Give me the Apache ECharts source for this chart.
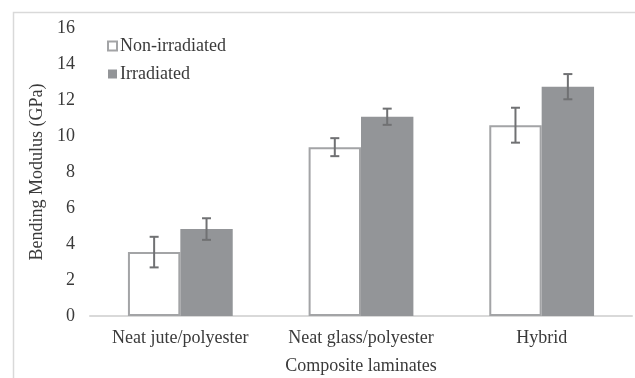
<!DOCTYPE html>
<html>
<head>
<meta charset="utf-8">
<script src="https://cdn.jsdelivr.net/npm/echarts@6/dist/echarts.min.js"></script>
<style>
html,body{margin:0;padding:0;background:#fff;}
#chart{width:635px;height:378px;}
</style>
</head>
<body>
<div id="chart"></div>
<script>
const categories = ['Neat jute/polyester', 'Neat glass/polyester', 'Hybrid'];
const seriesNames = ['Non-irradiated', 'Irradiated'];
const nonIrradiated = [3.55, 9.38, 10.6];
const irradiated = [4.83, 11.07, 12.74];
const nonIrradiatedErr = [0.85, 0.5, 0.97];
const irradiatedErr = [0.6, 0.45, 0.7];
const yTicks = [0, 2, 4, 6, 8, 10, 12, 14, 16];

const FONT = '"Liberation Serif", "Times New Roman", serif';
const TXT = '#3a3a3a';
const BAR_FRAC = 0.29;

function errorSeries(values, errs, side) {
  return {
    type: 'custom',
    silent: true,
    z: 10,
    data: values.map((v, i) => [i, v - errs[i], v + errs[i]]),
    renderItem: function (params, api) {
      const i = api.value(0);
      const lo = api.coord([i, api.value(1)]);
      const hi = api.coord([i, api.value(2)]);
      const band = api.size([1, 0])[0];
      const x = lo[0] + side * band * BAR_FRAC / 2;
      const cap = 4.5;
      const style = { stroke: '#707173', lineWidth: 2 };
      return {
        type: 'group',
        children: [
          { type: 'line', shape: { x1: x, y1: lo[1], x2: x, y2: hi[1] }, style },
          { type: 'line', shape: { x1: x - cap, y1: lo[1], x2: x + cap, y2: lo[1] }, style },
          { type: 'line', shape: { x1: x - cap, y1: hi[1], x2: x + cap, y2: hi[1] }, style }
        ]
      };
    }
  };
}

const chart = echarts.init(document.getElementById('chart'), null, { renderer: 'canvas' });
chart.setOption({
  animation: false,
  backgroundColor: '#fff',
  textStyle: { fontFamily: FONT },
  graphic: [{
    type: 'rect', left: 11, top: 10, silent: true,
    shape: { width: 700, height: 420 },
    style: { fill: 'none', stroke: '#d9d9d9', lineWidth: 1.5 }
  }],
  grid: { left: 90, right: 3, top: 28, bottom: 62, outerBoundsMode: 'none', containLabel: false },
  legend: {
    orient: 'vertical',
    left: 102,
    top: 32,
    itemWidth: 9,
    itemHeight: 9,
    itemGap: 10,
    icon: 'rect',
    data: seriesNames,
    textStyle: { fontFamily: FONT, fontSize: 18, color: TXT, lineHeight: 18, padding: [0, 0, 0, -2] }
  },
  xAxis: {
    type: 'category',
    data: categories,
    name: 'Composite laminates',
    nameLocation: 'middle',
    nameGap: 41,
    nameTextStyle: { fontFamily: FONT, fontSize: 18, color: TXT },
    axisLine: { lineStyle: { color: '#d9d9d9', width: 2 } },
    axisTick: { show: false },
    axisLabel: { fontFamily: FONT, fontSize: 18, color: TXT, margin: 13, interval: 0, hideOverlap: false }
  },
  yAxis: {
    type: 'value',
    min: 0,
    max: 16,
    interval: 2,
    name: 'Bending Modulus (GPa)',
    nameLocation: 'middle',
    nameGap: 38,
    nameTextStyle: { fontFamily: FONT, fontSize: 18, color: TXT },
    axisLine: { show: false },
    axisTick: { show: false },
    splitLine: { show: false },
    axisLabel: {
      fontFamily: FONT, fontSize: 18, color: TXT, margin: 15,
      formatter: v => yTicks.includes(v) ? String(v) : ''
    }
  },
  series: [
    {
      name: seriesNames[0], type: 'bar', data: nonIrradiated,
      barWidth: (BAR_FRAC * 100) + '%', barGap: '0%',
      itemStyle: { color: '#ffffff', borderColor: '#a3a4a6', borderWidth: 2 }
    },
    {
      name: seriesNames[1], type: 'bar', data: irradiated,
      barWidth: (BAR_FRAC * 100) + '%', barGap: '0%',
      itemStyle: { color: '#939598' }
    },
    errorSeries(nonIrradiated, nonIrradiatedErr, -1),
    errorSeries(irradiated, irradiatedErr, 1)
  ]
});
</script>
</body>
</html>
